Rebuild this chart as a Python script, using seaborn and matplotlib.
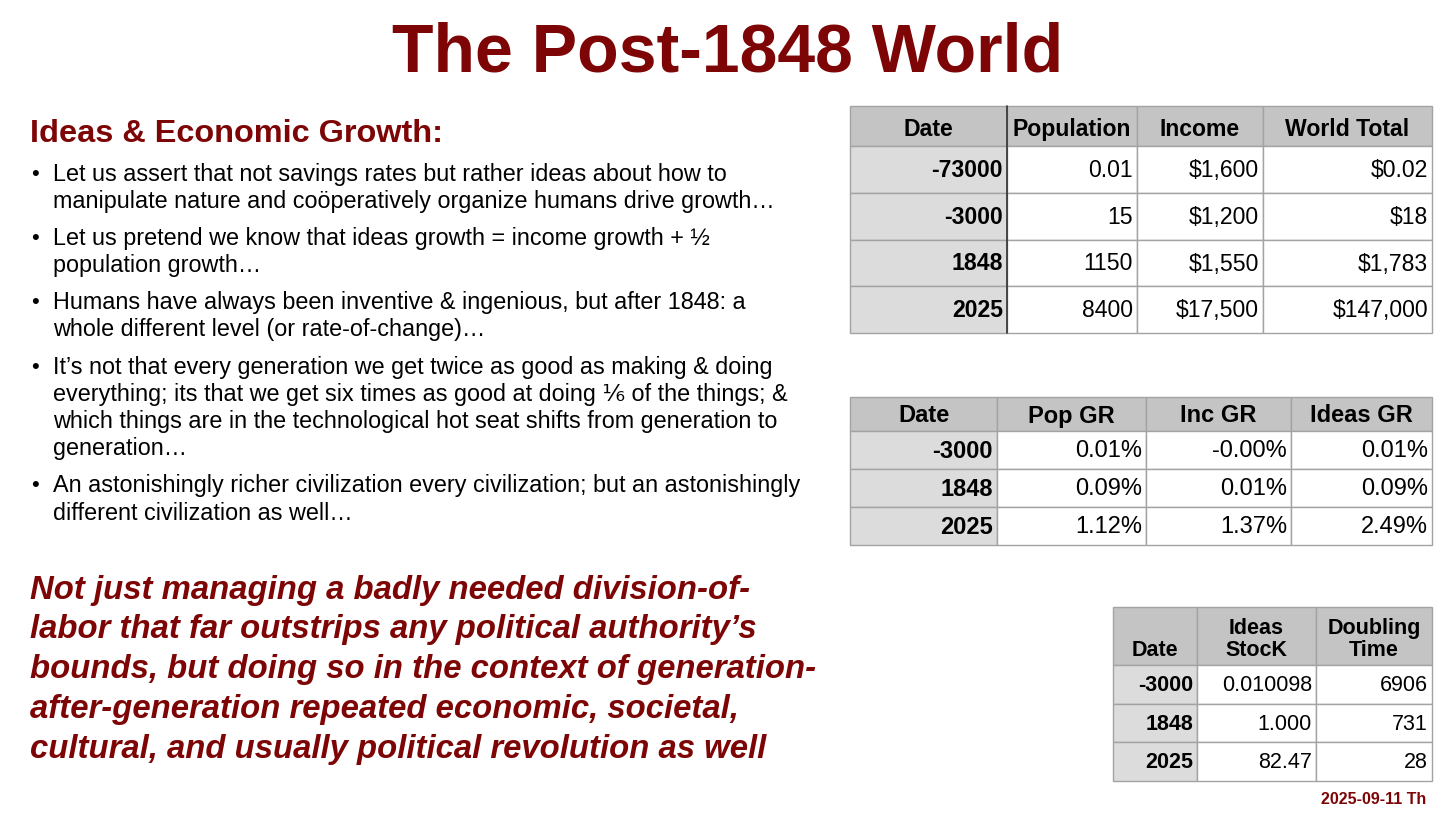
import matplotlib
matplotlib.use("Agg")
import matplotlib.pyplot as plt
from matplotlib.patches import Rectangle
import seaborn as sns

# ---------------- data ----------------
title = "The Post-1848 World"
subtitle = "Ideas & Economic Growth:"
bullets = [
    ["Let us assert that not savings rates but rather ideas about how to",
     "manipulate nature and coöperatively organize humans drive growth…"],
    ["Let us pretend we know that ideas growth = income growth + ½",
     "population growth…"],
    ["Humans have always been inventive & ingenious, but after 1848: a",
     "whole different level (or rate-of-change)…"],
    ["It’s not that every generation we get twice as good as making & doing",
     "everything; its that we get six times as good at doing ⅙ of the things; &",
     "which things are in the technological hot seat shifts from generation to",
     "generation…"],
    ["An astonishingly richer civilization every civilization; but an astonishingly",
     "different civilization as well…"],
]
quote_lines = [
    "Not just managing a badly needed division-of-",
    "labor that far outstrips any political authority’s",
    "bounds, but doing so in the context of generation-",
    "after-generation repeated economic, societal,",
    "cultural, and usually political revolution as well",
]
footer = "2025-09-11 Th"

t1_headers = ["Date", "Population", "Income", "World Total"]
t1_dates = ["-73000", "-3000", "1848", "2025"]
t1_population = ["0.01", "15", "1150", "8400"]
t1_income = ["$1,600", "$1,200", "$1,550", "$17,500"]
t1_world = ["$0.02", "$18", "$1,783", "$147,000"]

t2_headers = ["Date", "Pop GR", "Inc GR", "Ideas GR"]
t2_dates = ["-3000", "1848", "2025"]
t2_pop_gr = ["0.01%", "0.09%", "1.12%"]
t2_inc_gr = ["-0.00%", "0.01%", "1.37%"]
t2_ideas_gr = ["0.01%", "0.09%", "2.49%"]

t3_headers = ["Date", "Ideas\nStocK", "Doubling\nTime"]
t3_dates = ["-3000", "1848", "2025"]
t3_ideas_stock = ["0.010098", "1.000", "82.47"]
t3_doubling = ["6906", "731", "28"]

# ---------------- style ----------------
sns.set_theme(style="white")
FAM = ["Liberation Sans", "DejaVu Sans"]
plt.rcParams["font.family"] = FAM
RED = "#7d0505"
HEAD_BG = "#c3c4c3"
COL0_BG = "#dcdcdc"
EDGE = "#a3a3a3"

fig = plt.figure(figsize=(14.56, 8.19), dpi=100)
fig.patch.set_facecolor("white")
ax = fig.add_axes([0, 0, 1, 1])
ax.set_xlim(0, 1456)
ax.set_ylim(819, 0)
ax.axis("off")

# title
ax.text(728, 53, title, ha="center", va="center", fontsize=49,
        fontweight="bold", color=RED)

# subtitle
ax.text(30, 134, subtitle, ha="left", va="center", fontsize=23.4,
        fontweight="bold", color=RED)

# bullets
line_h = 27.2
para_gap = 10
y = 174
for para in bullets:
    ax.text(31, y, "•", ha="left", va="center", fontsize=16, color="black")
    for ln in para:
        ax.text(53, y, ln, ha="left", va="center", fontsize=16.8,
                color="black")
        y += line_h
    y += para_gap

# quote
for i, ln in enumerate(quote_lines):
    ax.text(30, 590 + i * 39.8, ln, ha="left", va="center", fontsize=23.7,
            fontweight="bold", fontstyle="italic", color=RED)

# footer
ax.text(1426, 799, footer, ha="right", va="center", fontsize=11.5,
        fontweight="bold", color=RED)


def draw_table(x0, y0, col_w, header_h, row_h, headers, columns, fs,
               hfs, header_va="center", dark_sep=False, hdy=1):
    nrows = len(columns[0])
    xs = [x0]
    for w in col_w:
        xs.append(xs[-1] + w)
    total_h = header_h + row_h * nrows
    # header
    for j, h in enumerate(headers):
        ax.add_patch(Rectangle((xs[j], y0), col_w[j], header_h,
                               facecolor=HEAD_BG, edgecolor=EDGE, lw=1))
        cx = (xs[j] + xs[j + 1]) / 2
        if header_va == "bottom":
            ax.text(cx, y0 + header_h - 4, h, ha="center", va="bottom",
                    fontsize=hfs, fontweight="bold", color="black",
                    linespacing=1.05, multialignment="center")
        else:
            ax.text(cx, y0 + header_h / 2 + hdy, h, ha="center", va="center",
                    fontsize=hfs, fontweight="bold", color="black")
    # body
    for i in range(nrows):
        ry = y0 + header_h + i * row_h
        for j, col in enumerate(columns):
            bg = COL0_BG if j == 0 else "white"
            ax.add_patch(Rectangle((xs[j], ry), col_w[j], row_h,
                                   facecolor=bg, edgecolor=EDGE, lw=1))
            ax.text(xs[j + 1] - 4, ry + row_h / 2 + 1, col[i], ha="right",
                    va="center", fontsize=fs,
                    fontweight="bold" if j == 0 else "normal",
                    color="black")
    if dark_sep:
        ax.plot([xs[1], xs[1]], [y0, y0 + total_h], color="#333333", lw=1.2)


draw_table(850, 106, [157, 130, 126, 169], 40, 46.8, t1_headers,
           [t1_dates, t1_population, t1_income, t1_world], 16.6, 16.6,
           dark_sep=True, hdy=3.5)
draw_table(850, 397, [147, 149, 145, 141], 34, 38, t2_headers,
           [t2_dates, t2_pop_gr, t2_inc_gr, t2_ideas_gr], 17, 17, hdy=2)
draw_table(1113, 607, [84, 119, 116], 58, 38.7, t3_headers,
           [t3_dates, t3_ideas_stock, t3_doubling], 15.5, 15.5,
           header_va="bottom")

fig.savefig("out.png", dpi=100, facecolor="white")
